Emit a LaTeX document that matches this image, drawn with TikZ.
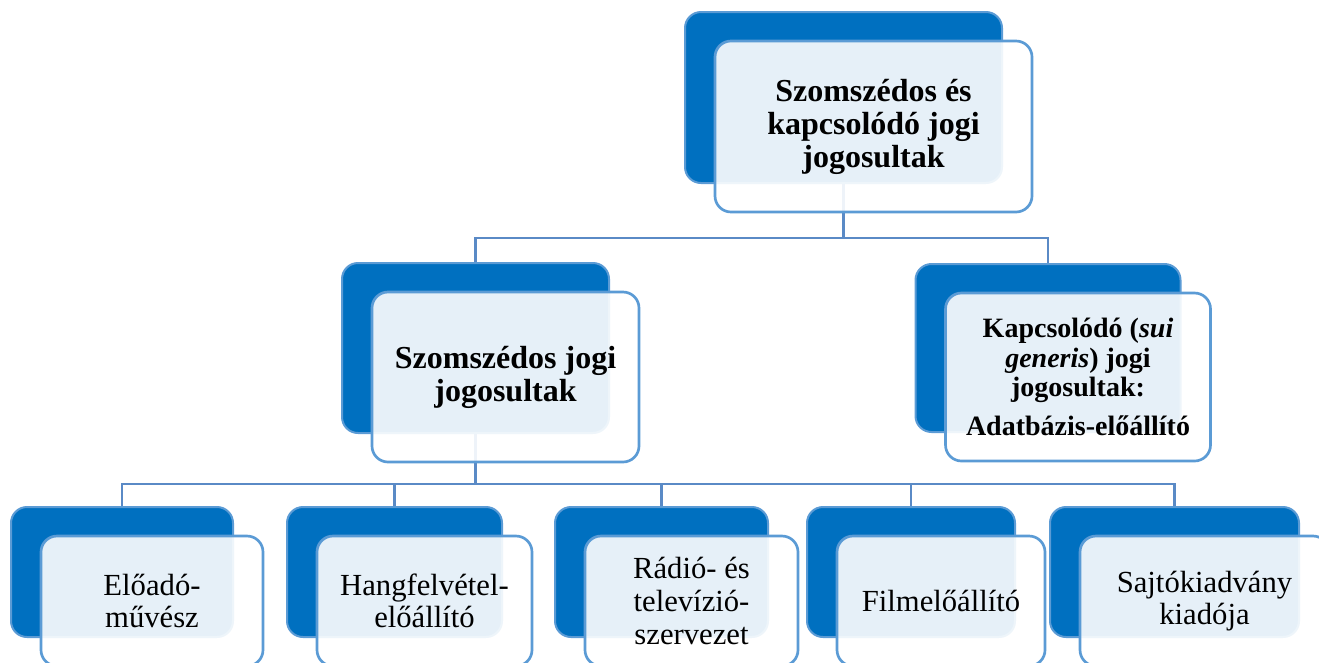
\documentclass[tikz,border=0pt]{standalone}
\usepackage{fontspec}
\setmainfont{Liberation Serif}
\usetikzlibrary{backgrounds}
\definecolor{darkbox}{HTML}{0070C0}
\definecolor{rimblue}{HTML}{5B9BD5}
\definecolor{linkblue}{HTML}{5A8AC6}

\begin{document}
\begin{tikzpicture}[x=0.75pt, y=-0.75pt,
  backbox/.style={draw=rimblue, line width=1.5pt, fill=darkbox, rounded corners=12pt},
  frontbox/.style={draw=rimblue, line width=2pt, fill=white, fill opacity=0.9, text opacity=1, rounded corners=12pt, align=center},
  conn/.style={draw=linkblue, line width=2pt},
  bigtext/.style={font=\fontsize{24}{24.75}\selectfont\bfseries},
  kaptext/.style={font=\fontsize{21}{22}\selectfont\bfseries},
  smalltext/.style={font=\fontsize{23}{24.5}\selectfont}]
  \useasboundingbox (0,0) rectangle (1319,662);

  % top level
  \node[backbox, minimum width=237.75pt, minimum height=128.25pt] (topback) at (843.5,97.5) {};
  \node[frontbox, bigtext, minimum width=237.75pt, minimum height=128.25pt] (top) at (873.5,126.5) {Szomszédos és\\kapcsolódó jogi\\jogosultak};

  % second level
  \node[backbox, minimum width=200.25pt, minimum height=127.5pt] (szomback) at (475.5,348) {};
  \node[frontbox, bigtext, minimum width=200.25pt, minimum height=127.5pt] (szom) at (505.5,377) {Szomszédos jogi\\jogosultak};
  \node[backbox, minimum width=198.75pt, minimum height=126pt] (kapback) at (1048,348) {};
  \node[frontbox, kaptext, minimum width=198.75pt, minimum height=126pt] (kap) at (1078,377) {Kapcsolódó (\textit{sui}\\\textit{generis}) jogi\\jogosultak:\\[7pt]Adatbázis-előállító};

  % third level
  \tikzset{every node/.append style={rounded corners=10pt, minimum height=97.5pt}}
  \node[backbox, minimum width=166.5pt] (eloback) at (122,572) {};
  \node[frontbox, smalltext, minimum width=166.5pt] (elo) at (152,601) {Előadó-\\művész};
  \node[backbox, minimum width=161.25pt] (hangback) at (394.5,572) {};
  \node[frontbox, smalltext, minimum width=161.25pt] (hang) at (424.5,601) {Hangfelvétel-\\előállító};
  \node[backbox, minimum width=159.75pt] (radback) at (661.5,572) {};
  \node[frontbox, smalltext, minimum width=159.75pt] (rad) at (691.5,601) {Rádió- és\\televízió-\\szervezet};
  \node[backbox, minimum width=156pt] (filmback) at (911,572) {};
  \node[frontbox, smalltext, minimum width=156pt] (film) at (941,601) {Filmelőállító};
  \node[backbox, minimum width=186.75pt] (sajtoback) at (1174.5,572) {};
  \node[frontbox, smalltext, minimum width=186.75pt] (sajto) at (1204.5,601) {Sajtókiadvány\\kiadója};

  \coordinate (topjoint) at (843.5,238);
  \coordinate (szomjoint) at (475.5,484);

  \begin{scope}[on background layer]
    \draw[conn] (topback) -- (topjoint);
    \draw[conn] (topjoint) -| (szomback.north);
    \draw[conn] (topjoint) -| (kapback.north);
    \draw[conn] (szomback) -- (szomjoint);
    \foreach \n in {eloback,hangback,radback,filmback,sajtoback}
      \draw[conn] (szomjoint) -| (\n.north);
  \end{scope}
\end{tikzpicture}
\end{document}
